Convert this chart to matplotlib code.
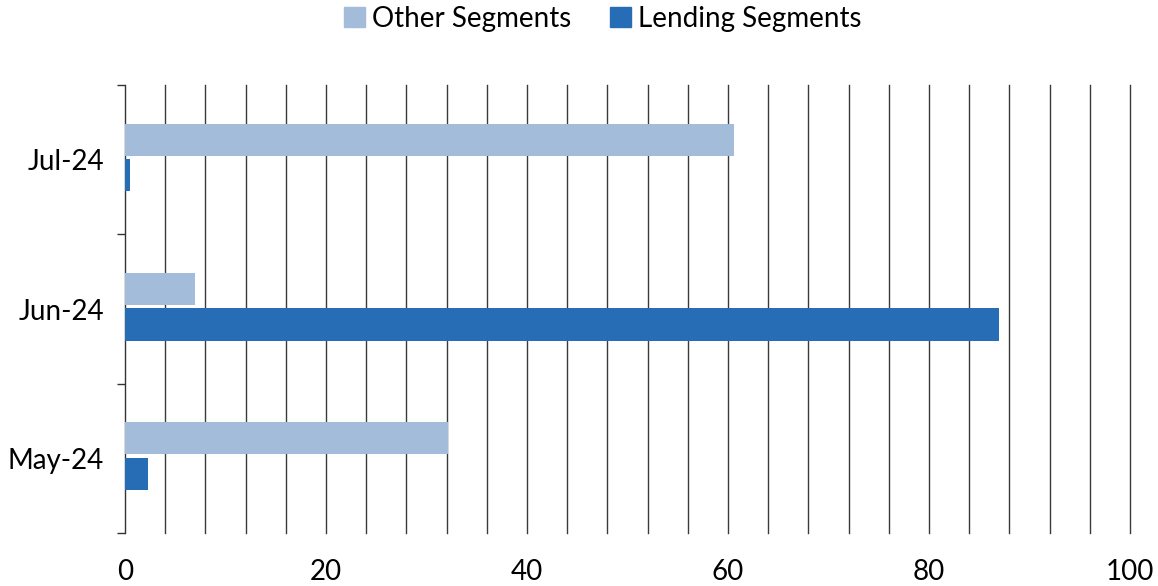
import matplotlib.pyplot as plt
import numpy as np
from matplotlib.patches import Patch

plt.rcParams['font.family'] = ['Lato', 'DejaVu Sans']

months = ['May-24', 'Jun-24', 'Jul-24']
other_segments = [32.1, 7.0, 60.6]
lending_segments = [2.3, 87.0, 0.5]

c_other = '#a3bcd9'
c_lend = '#266db5'

fig = plt.figure(figsize=(11.58, 5.86), dpi=100)
ax = fig.add_axes([125/1158, 1 - 533/586, (1130-125)/1158, (533-85)/586])

y = np.arange(len(months))
h = 0.215
ax.barh(y + 0.134, other_segments, height=h, color=c_other, zorder=3)
ax.barh(y - 0.104, lending_segments, height=h, color=c_lend, zorder=3)

ax.set_xlim(0, 100)
ax.set_ylim(-0.5, 2.5)

# vertical grid every 4 units
for gx in np.arange(4, 101, 4):
	ax.axvline(gx, color='#3a3a3a', linewidth=1.0, zorder=1, clip_on=False)

ax.set_xticks(np.arange(0, 101, 20))
ax.tick_params(axis='x', length=0, pad=19, labelsize=20)
ax.set_yticks([-0.5, 0.5, 1.5, 2.5])
ax.set_yticklabels([])
ax.set_yticks(y, minor=True)
ax.set_yticklabels(months, minor=True)
ax.tick_params(axis='y', which='major', length=6, width=1, color='#333333', direction='out')
ax.tick_params(axis='y', which='minor', length=0, pad=15, labelsize=20)

for s in ['top', 'right', 'bottom']:
	ax.spines[s].set_visible(False)
ax.spines['left'].set_color('#333333')
ax.spines['left'].set_linewidth(1)

handles = [Patch(color=c_other, label='Other Segments'), Patch(color=c_lend, label='Lending Segments')]
fig.legend(handles=handles, loc='center', bbox_to_anchor=(603/1158, 1 - 19/586), ncol=2,
		   frameon=False, fontsize=20, handlelength=0.75, handleheight=0.75, handletextpad=0.25,
		   columnspacing=1.4)

fig.savefig('out.png', dpi=100)
